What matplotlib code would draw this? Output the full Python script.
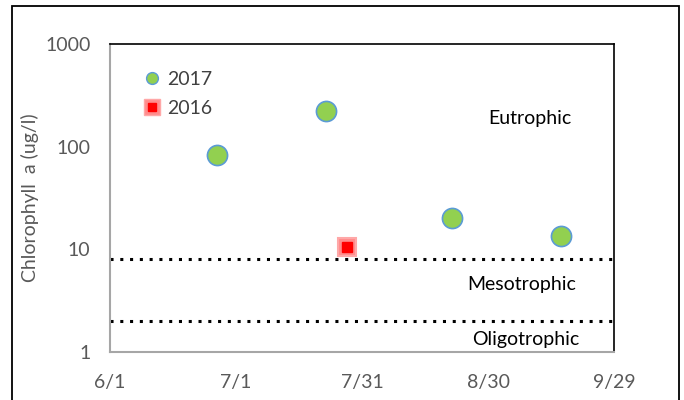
import matplotlib
matplotlib.use("Agg")
import matplotlib.pyplot as plt
from matplotlib.lines import Line2D
from matplotlib.patches import Rectangle
import datetime as dt

plt.rcParams['font.family'] = ['Lato', 'DejaVu Sans']

dates_2017 = ["2017-06-26", "2017-07-22", "2017-08-21", "2017-09-16"]
chl_2017 = [83, 223, 20.2, 13.5]
dates_2016 = ["2017-07-27"]
chl_2016 = [10.5]
thresholds = [8, 2]
zone_labels = ["Eutrophic", "Mesotrophic", "Oligotrophic"]
zone_x = ["2017-09-09", "2017-09-07", "2017-09-08"]
zone_y = [190, 4.5, 1.31]
tick_dates = ["2017-06-01", "2017-07-01", "2017-07-31", "2017-08-30", "2017-09-29"]
tick_labels = ["6/1", "7/1", "7/31", "8/30", "9/29"]

def d(s):
    return dt.datetime.strptime(s, "%Y-%m-%d") + dt.timedelta(hours=10)

def d0(s):
    return dt.datetime.strptime(s, "%Y-%m-%d")

fig = plt.figure(figsize=(6.84, 4.0), dpi=100)
ax = fig.add_axes([110/684, 1 - 352/400, (614-110)/684, (352-44)/400])

# outer frame
fig.patches.append(Rectangle((12/684, -0.1), (679-12)/684, 1.1 - 6/400,
                             transform=fig.transFigure, fill=False,
                             edgecolor='black', linewidth=1.3))

x17 = [d(s) for s in dates_2017]
x16 = [d(s) for s in dates_2016]

ax.set_yscale('log')
ax.set_ylim(1, 1000)
ax.set_xlim(d0(tick_dates[0]), d0(tick_dates[-1]))

for t in thresholds:
    ax.axhline(t, color='black', linestyle=(0, (1, 2.2)), linewidth=2.2, zorder=2)

ax.plot(x17, chl_2017, linestyle='none', marker='o', markersize=14.5,
        markerfacecolor='#92D050', markeredgecolor='#5B9BD5', markeredgewidth=1.2, zorder=3)
ax.plot(x16, chl_2016, linestyle='none', marker='s', markersize=13.5,
        markerfacecolor='#FF8C8C', markeredgecolor='#FFA8A8', markeredgewidth=1.5, zorder=3)
ax.plot(x16, chl_2016, linestyle='none', marker='s', markersize=7,
        markerfacecolor='#FF0000', markeredgecolor='#FF0000', zorder=4)

for lab, xv, yv in zip(zone_labels, zone_x, zone_y):
    ax.text(d0(xv), yv, lab, ha='center', va='center', fontsize=14, color='black')

ax.set_xticks([d0(s) for s in tick_dates])
ax.set_xticklabels(tick_labels)
ax.set_yticks([1, 10, 100, 1000])
ax.set_yticklabels(["1", "10", "100", "1000"])
ax.minorticks_off()
ax.tick_params(axis='both', length=0, labelsize=14, colors='#595959')
ax.tick_params(axis='x', pad=16)
ax.tick_params(axis='y', pad=14)
ax.set_ylabel("Chlorophyll  a (ug/l)", fontsize=14, color='#595959', va='center')
ax.yaxis.set_label_coords((30 - 110) / 504, 0.5)

for s in ['left', 'bottom']:
    ax.spines[s].set_color('#A6A6A6')
    ax.spines[s].set_linewidth(1.5)
for s in ['top', 'right']:
    ax.spines[s].set_color('black')
    ax.spines[s].set_linewidth(1.2)

h17 = Line2D([], [], linestyle='none', marker='o', markersize=8.5,
             markerfacecolor='#92D050', markeredgecolor='#5B9BD5', markeredgewidth=1.0)
h16a = Line2D([], [], linestyle='none', marker='s', markersize=11,
              markerfacecolor='#FF8C8C', markeredgecolor='#FFA8A8')
h16b = Line2D([], [], linestyle='none', marker='s', markersize=6,
              markerfacecolor='#FF0000', markeredgecolor='#FF0000')
leg = ax.legend([h17, (h16a, h16b)], ["2017", "2016"], loc='upper left',
                bbox_to_anchor=(0.053, 0.945), frameon=False, fontsize=14,
                handlelength=0.6, handletextpad=0.45, labelspacing=0.65, borderpad=0)
for t in leg.get_texts():
    t.set_color('#404040')

fig.savefig("out.png", dpi=100)
